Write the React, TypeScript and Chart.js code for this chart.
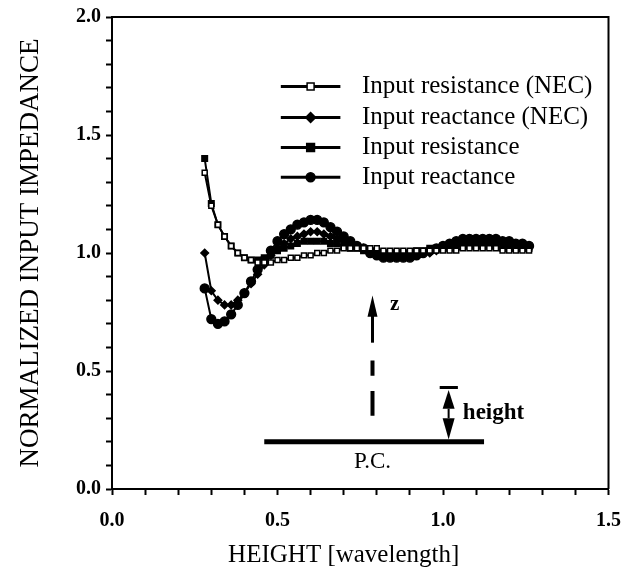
import React, { useEffect, useRef } from 'react';
import { Chart, registerables } from 'chart.js';

Chart.register(...registerables);

const heights = [
  0.28, 0.30, 0.32, 0.34, 0.36, 0.38, 0.40, 0.42, 0.44, 0.46,
  0.48, 0.50, 0.52, 0.54, 0.56, 0.58, 0.60, 0.62, 0.64, 0.66,
  0.68, 0.70, 0.72, 0.74, 0.76, 0.78, 0.80, 0.82, 0.84, 0.86,
  0.88, 0.90, 0.92, 0.94, 0.96, 0.98, 1.00, 1.02, 1.04, 1.06,
  1.08, 1.10, 1.12, 1.14, 1.16, 1.18, 1.20, 1.22, 1.24, 1.26,
];

const resistanceNEC = [
  1.34, 1.20, 1.12, 1.07, 1.03, 1.00, 0.98, 0.97, 0.96, 0.96,
  0.96, 0.97, 0.97, 0.98, 0.98, 0.99, 0.99, 1.00, 1.00, 1.01,
  1.01, 1.02, 1.02, 1.02, 1.02, 1.02, 1.02, 1.01, 1.01, 1.01,
  1.01, 1.01, 1.01, 1.01, 1.01, 1.01, 1.01, 1.01, 1.01, 1.02,
  1.02, 1.02, 1.02, 1.02, 1.02, 1.01, 1.01, 1.01, 1.01, 1.01,
];

const reactanceNEC = [
  1.00, 0.84, 0.80, 0.78, 0.78, 0.80, 0.83, 0.87, 0.91, 0.95,
  0.99, 1.02, 1.04, 1.06, 1.07, 1.08, 1.09, 1.09, 1.08, 1.07,
  1.06, 1.05, 1.04, 1.03, 1.02, 1.01, 1.00, 0.99, 0.99, 0.99,
  0.99, 0.99, 0.99, 1.00, 1.00, 1.01, 1.02, 1.03, 1.03, 1.04,
  1.04, 1.04, 1.05, 1.05, 1.04, 1.04, 1.04, 1.03, 1.03, 1.03,
];

const resistance = [
  1.40, 1.21, 1.12, 1.07, 1.03, 1.00, 0.98, 0.97, 0.97, 0.98,
  0.99, 1.01, 1.02, 1.03, 1.04, 1.05, 1.05, 1.05, 1.05, 1.04,
  1.04, 1.03, 1.02, 1.02, 1.01, 1.00, 1.00, 1.00, 1.00, 1.00,
  1.00, 1.00, 1.01, 1.01, 1.02, 1.02, 1.03, 1.03, 1.03, 1.03,
  1.03, 1.03, 1.03, 1.03, 1.03, 1.02, 1.02, 1.02, 1.02, 1.02,
];

const reactance = [
  0.85, 0.72, 0.70, 0.71, 0.74, 0.78, 0.83, 0.88, 0.93, 0.97,
  1.01, 1.05, 1.08, 1.10, 1.12, 1.13, 1.14, 1.14, 1.13, 1.11,
  1.09, 1.07, 1.05, 1.03, 1.02, 1.00, 0.99, 0.98, 0.98, 0.98,
  0.98, 0.98, 0.99, 1.00, 1.01, 1.02, 1.03, 1.04, 1.05, 1.06,
  1.06, 1.06, 1.06, 1.06, 1.06, 1.05, 1.05, 1.04, 1.04, 1.03,
];

const seriesLabels = [
  'Input resistance (NEC)',
  'Input reactance (NEC)',
  'Input resistance',
  'Input reactance',
];

const xTickLabels = ['0.0', '0.5', '1.0', '1.5'];
const yTickLabels = ['0.0', '0.5', '1.0', '1.5', '2.0'];
const xAxisTitle = 'HEIGHT [wavelength]';
const yAxisTitle = 'NORMALIZED INPUT IMPEDANCE';

const SERIF = '"Liberation Serif", "Times New Roman", serif';

function toPoints(vals: number[]) {
  return heights.map((h, i) => ({ x: h, y: vals[i] }));
}

function isMajor(v: number) {
  return Math.abs(v * 2 - Math.round(v * 2)) < 1e-6;
}

function drawMarker(ctx: CanvasRenderingContext2D, style: string, r: number, fill: string, x: number, y: number) {
  ctx.beginPath();
  if (style === 'rect') {
    ctx.rect(x - r, y - r, 2 * r, 2 * r);
  } else if (style === 'rectRot') {
    ctx.moveTo(x, y - r * 1.3);
    ctx.lineTo(x + r * 1.3, y);
    ctx.lineTo(x, y + r * 1.3);
    ctx.lineTo(x - r * 1.3, y);
    ctx.closePath();
  } else {
    ctx.arc(x, y, r, 0, Math.PI * 2);
  }
  ctx.fillStyle = fill;
  ctx.fill();
  ctx.lineWidth = 1.5;
  ctx.strokeStyle = '#000';
  ctx.stroke();
}

const annotationPlugin = {
  id: 'annotations',
  afterDraw(chart: any) {
    const { ctx, chartArea: a, scales } = chart;
    const xs = scales.x;
    const ys = scales.y;
    const px = (v: number) => xs.getPixelForValue(v);
    const py = (v: number) => ys.getPixelForValue(v);
    ctx.save();
    ctx.strokeStyle = '#000';
    ctx.fillStyle = '#000';

    // frame top/right
    ctx.lineWidth = 2;
    ctx.beginPath();
    ctx.moveTo(a.left, a.top);
    ctx.lineTo(a.right, a.top);
    ctx.lineTo(a.right, a.bottom);
    ctx.stroke();

    // x axis title
    ctx.font = `25px ${SERIF}`;
    ctx.textAlign = 'center';
    ctx.textBaseline = 'middle';
    ctx.fillText(xAxisTitle, px(0.70), a.bottom + 66);

    // legend
    const rowY = [py(1.705), py(1.574), py(1.447), py(1.321)];
    const lx1 = px(0.51);
    const lx2 = px(0.69);
    const tx = px(0.755);
    chart.data.datasets.forEach((ds: any, i: number) => {
      const y = rowY[i];
      ctx.lineWidth = 3;
      ctx.strokeStyle = '#000';
      ctx.beginPath();
      ctx.moveTo(lx1, y);
      ctx.lineTo(lx2, y);
      ctx.stroke();
      drawMarker(ctx, ds.pointStyle, ds.pointRadius, ds.pointBackgroundColor, (lx1 + lx2) / 2, y);
      ctx.fillStyle = '#000';
      ctx.font = `25px ${SERIF}`;
      ctx.textAlign = 'left';
      ctx.textBaseline = 'middle';
      ctx.fillText(ds.label, tx, y);
    });

    // P.C. plate
    ctx.lineWidth = 5;
    ctx.lineCap = 'butt';
    ctx.beginPath();
    ctx.moveTo(px(0.46), py(0.2));
    ctx.lineTo(px(1.124), py(0.2));
    ctx.stroke();
    ctx.font = `23px ${SERIF}`;
    ctx.textAlign = 'center';
    ctx.textBaseline = 'middle';
    ctx.fillText('P.C.', px(0.787), py(0.115));

    // z arrow
    const zx = px(0.787);
    ctx.beginPath();
    ctx.moveTo(zx, py(0.82));
    ctx.lineTo(zx + 5, py(0.73));
    ctx.lineTo(zx - 5, py(0.73));
    ctx.closePath();
    ctx.fill();
    ctx.lineWidth = 3;
    ctx.beginPath();
    ctx.moveTo(zx, py(0.74));
    ctx.lineTo(zx, py(0.62));
    ctx.stroke();
    ctx.lineWidth = 4;
    ctx.beginPath();
    ctx.moveTo(zx, py(0.545));
    ctx.lineTo(zx, py(0.48));
    ctx.moveTo(zx, py(0.415));
    ctx.lineTo(zx, py(0.31));
    ctx.stroke();
    ctx.font = `bold 21px ${SERIF}`;
    ctx.textAlign = 'left';
    ctx.fillText('z', px(0.84), py(0.78));

    // height arrow
    const hx = px(1.017);
    ctx.lineWidth = 3;
    ctx.beginPath();
    ctx.moveTo(px(0.99), py(0.43));
    ctx.lineTo(px(1.045), py(0.43));
    ctx.stroke();
    ctx.beginPath();
    ctx.moveTo(hx, py(0.42));
    ctx.lineTo(hx + 6, py(0.34));
    ctx.lineTo(hx - 6, py(0.34));
    ctx.closePath();
    ctx.fill();
    ctx.beginPath();
    ctx.moveTo(hx, py(0.21));
    ctx.lineTo(hx + 6, py(0.30));
    ctx.lineTo(hx - 6, py(0.30));
    ctx.closePath();
    ctx.fill();
    ctx.lineWidth = 2;
    ctx.beginPath();
    ctx.moveTo(hx, py(0.34));
    ctx.lineTo(hx, py(0.30));
    ctx.stroke();
    ctx.font = `bold 23px ${SERIF}`;
    ctx.textAlign = 'left';
    ctx.fillText('height', px(1.06), py(0.32));

    ctx.restore();
  },
};

export default function App() {
  const ref = useRef<HTMLCanvasElement | null>(null);

  useEffect(() => {
    document.body.style.margin = '0';
    const canvas = ref.current;
    if (!canvas) return;
    const common = {
      showLine: true,
      borderColor: '#000',
      borderWidth: 2,
      pointBorderColor: '#000',
      pointBorderWidth: 1.5,
    };
    const chart = new Chart(canvas, {
      type: 'scatter',
      data: {
        datasets: [
          { ...common, label: seriesLabels[0], data: toPoints(resistanceNEC), pointStyle: 'rect', pointRadius: 3.5, pointBackgroundColor: '#fff' },
          { ...common, label: seriesLabels[1], data: toPoints(reactanceNEC), pointStyle: 'rectRot', pointRadius: 3.8, pointBackgroundColor: '#000' },
          { ...common, label: seriesLabels[2], data: toPoints(resistance), pointStyle: 'rect', pointRadius: 3.9, pointBackgroundColor: '#000' },
          { ...common, label: seriesLabels[3], data: toPoints(reactance), pointStyle: 'circle', pointRadius: 4.4, pointBackgroundColor: '#000' },
        ],
      },
      options: {
        responsive: false,
        animation: false,
        events: [],
        layout: { padding: { top: 15, right: 14, left: 0, bottom: 0 } },
        plugins: { legend: { display: false }, tooltip: { enabled: false } },
        scales: {
          x: {
            type: 'linear',
            min: 0,
            max: 1.5,
            afterFit: (s: any) => { s.height = 89; },
            border: { display: true, color: '#000', width: 2 },
            grid: { drawOnChartArea: false, drawTicks: true, tickLength: 6, tickColor: '#000', tickWidth: 2 },
            ticks: {
              stepSize: 0.1,
              autoSkip: false,
              maxRotation: 0,
              padding: 14,
              color: '#000',
              font: { family: SERIF, size: 20, weight: 'bold' },
              callback: (v: any) => (isMajor(Number(v)) ? xTickLabels[Math.round(Number(v) * 2)] : ''),
            },
            title: { display: false },
          },
          y: {
            type: 'linear',
            min: 0,
            max: 2,
            afterFit: (s: any) => { s.width = 112; },
            border: { display: true, color: '#000', width: 2 },
            grid: { drawOnChartArea: false, drawTicks: true, tickLength: 6, tickColor: '#000', tickWidth: 2 },
            ticks: {
              stepSize: 0.1,
              autoSkip: false,
              padding: 5,
              color: '#000',
              font: { family: SERIF, size: 20, weight: 'bold' },
              callback: (v: any) => (isMajor(Number(v)) ? yTickLabels[Math.round(Number(v) * 2)] : ''),
            },
            title: {
              display: true,
              text: yAxisTitle,
              color: '#000',
              font: { family: SERIF, size: 27 },
              padding: { top: 15, bottom: 0 },
            },
          },
        },
      },
      plugins: [annotationPlugin],
    });
    return () => chart.destroy();
  }, []);

  return (
    <div style={{ width: 635, height: 578 }}>
      <canvas ref={ref} width={635} height={578} style={{ width: 635, height: 578, display: 'block' }} />
    </div>
  );
}
